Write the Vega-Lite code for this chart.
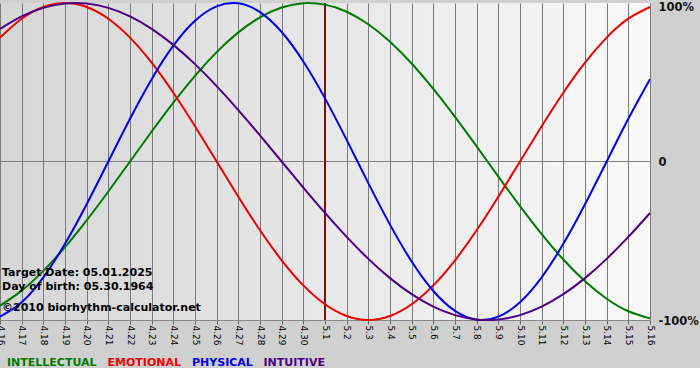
{
  "$schema": "https://vega.github.io/schema/vega-lite/v6.json",
  "width": 650,
  "height": 317,
  "autosize": {"type": "none"},
  "padding": {"left": 0, "top": 3, "right": 50, "bottom": 48},
  "background": "#d0d0d0",
  "config": {
    "font": "DejaVu Sans",
    "view": {
      "stroke": null,
      "fill": {"gradient": "linear", "x1": 0, "y1": 0, "x2": 1, "y2": 0,
        "stops": [{"offset": 0, "color": "#d6d6d6"}, {"offset": 1, "color": "#f9f9f9"}]}
    }
  },
  "datasets": {
    "curves": [
      {"d":"4.16","s":"INTELLECTUAL","v":-0.9096},{"d":"4.17","s":"INTELLECTUAL","v":-0.8146},{"d":"4.18","s":"INTELLECTUAL","v":-0.6901},{"d":"4.19","s":"INTELLECTUAL","v":-0.5406},{"d":"4.20","s":"INTELLECTUAL","v":-0.3717},{"d":"4.21","s":"INTELLECTUAL","v":-0.1893},{"d":"4.22","s":"INTELLECTUAL","v":0},{"d":"4.23","s":"INTELLECTUAL","v":0.1893},{"d":"4.24","s":"INTELLECTUAL","v":0.3717},{"d":"4.25","s":"INTELLECTUAL","v":0.5406},{"d":"4.26","s":"INTELLECTUAL","v":0.6901},{"d":"4.27","s":"INTELLECTUAL","v":0.8146},{"d":"4.28","s":"INTELLECTUAL","v":0.9096},{"d":"4.29","s":"INTELLECTUAL","v":0.9718},{"d":"4.30","s":"INTELLECTUAL","v":0.9989},{"d":"5.1","s":"INTELLECTUAL","v":0.9898},{"d":"5.2","s":"INTELLECTUAL","v":0.945},{"d":"5.3","s":"INTELLECTUAL","v":0.866},{"d":"5.4","s":"INTELLECTUAL","v":0.7557},{"d":"5.5","s":"INTELLECTUAL","v":0.6182},{"d":"5.6","s":"INTELLECTUAL","v":0.4582},{"d":"5.7","s":"INTELLECTUAL","v":0.2817},{"d":"5.8","s":"INTELLECTUAL","v":0.0951},{"d":"5.9","s":"INTELLECTUAL","v":-0.0951},{"d":"5.10","s":"INTELLECTUAL","v":-0.2817},{"d":"5.11","s":"INTELLECTUAL","v":-0.4582},{"d":"5.12","s":"INTELLECTUAL","v":-0.6182},{"d":"5.13","s":"INTELLECTUAL","v":-0.7557},{"d":"5.14","s":"INTELLECTUAL","v":-0.866},{"d":"5.15","s":"INTELLECTUAL","v":-0.945},{"d":"5.16","s":"INTELLECTUAL","v":-0.9898},
      {"d":"4.16","s":"EMOTIONAL","v":0.7818},{"d":"4.17","s":"EMOTIONAL","v":0.901},{"d":"4.18","s":"EMOTIONAL","v":0.9749},{"d":"4.19","s":"EMOTIONAL","v":1},{"d":"4.20","s":"EMOTIONAL","v":0.9749},{"d":"4.21","s":"EMOTIONAL","v":0.901},{"d":"4.22","s":"EMOTIONAL","v":0.7818},{"d":"4.23","s":"EMOTIONAL","v":0.6235},{"d":"4.24","s":"EMOTIONAL","v":0.4339},{"d":"4.25","s":"EMOTIONAL","v":0.2225},{"d":"4.26","s":"EMOTIONAL","v":0},{"d":"4.27","s":"EMOTIONAL","v":-0.2225},{"d":"4.28","s":"EMOTIONAL","v":-0.4339},{"d":"4.29","s":"EMOTIONAL","v":-0.6235},{"d":"4.30","s":"EMOTIONAL","v":-0.7818},{"d":"5.1","s":"EMOTIONAL","v":-0.901},{"d":"5.2","s":"EMOTIONAL","v":-0.9749},{"d":"5.3","s":"EMOTIONAL","v":-1},{"d":"5.4","s":"EMOTIONAL","v":-0.9749},{"d":"5.5","s":"EMOTIONAL","v":-0.901},{"d":"5.6","s":"EMOTIONAL","v":-0.7818},{"d":"5.7","s":"EMOTIONAL","v":-0.6235},{"d":"5.8","s":"EMOTIONAL","v":-0.4339},{"d":"5.9","s":"EMOTIONAL","v":-0.2225},{"d":"5.10","s":"EMOTIONAL","v":0},{"d":"5.11","s":"EMOTIONAL","v":0.2225},{"d":"5.12","s":"EMOTIONAL","v":0.4339},{"d":"5.13","s":"EMOTIONAL","v":0.6235},{"d":"5.14","s":"EMOTIONAL","v":0.7818},{"d":"5.15","s":"EMOTIONAL","v":0.901},{"d":"5.16","s":"EMOTIONAL","v":0.9749},
      {"d":"4.16","s":"PHYSICAL","v":-0.9791},{"d":"4.17","s":"PHYSICAL","v":-0.8879},{"d":"4.18","s":"PHYSICAL","v":-0.7308},{"d":"4.19","s":"PHYSICAL","v":-0.5196},{"d":"4.20","s":"PHYSICAL","v":-0.2698},{"d":"4.21","s":"PHYSICAL","v":0},{"d":"4.22","s":"PHYSICAL","v":0.2698},{"d":"4.23","s":"PHYSICAL","v":0.5196},{"d":"4.24","s":"PHYSICAL","v":0.7308},{"d":"4.25","s":"PHYSICAL","v":0.8879},{"d":"4.26","s":"PHYSICAL","v":0.9791},{"d":"4.27","s":"PHYSICAL","v":0.9977},{"d":"4.28","s":"PHYSICAL","v":0.9423},{"d":"4.29","s":"PHYSICAL","v":0.817},{"d":"4.30","s":"PHYSICAL","v":0.6311},{"d":"5.1","s":"PHYSICAL","v":0.3984},{"d":"5.2","s":"PHYSICAL","v":0.1362},{"d":"5.3","s":"PHYSICAL","v":-0.1362},{"d":"5.4","s":"PHYSICAL","v":-0.3984},{"d":"5.5","s":"PHYSICAL","v":-0.6311},{"d":"5.6","s":"PHYSICAL","v":-0.817},{"d":"5.7","s":"PHYSICAL","v":-0.9423},{"d":"5.8","s":"PHYSICAL","v":-0.9977},{"d":"5.9","s":"PHYSICAL","v":-0.9791},{"d":"5.10","s":"PHYSICAL","v":-0.8879},{"d":"5.11","s":"PHYSICAL","v":-0.7308},{"d":"5.12","s":"PHYSICAL","v":-0.5196},{"d":"5.13","s":"PHYSICAL","v":-0.2698},{"d":"5.14","s":"PHYSICAL","v":0},{"d":"5.15","s":"PHYSICAL","v":0.2698},{"d":"5.16","s":"PHYSICAL","v":0.5196},
      {"d":"4.16","s":"INTUITIVE","v":0.8372},{"d":"4.17","s":"INTUITIVE","v":0.9158},{"d":"4.18","s":"INTUITIVE","v":0.9694},{"d":"4.19","s":"INTUITIVE","v":0.9966},{"d":"4.20","s":"INTUITIVE","v":0.9966},{"d":"4.21","s":"INTUITIVE","v":0.9694},{"d":"4.22","s":"INTUITIVE","v":0.9158},{"d":"4.23","s":"INTUITIVE","v":0.8372},{"d":"4.24","s":"INTUITIVE","v":0.7357},{"d":"4.25","s":"INTUITIVE","v":0.6142},{"d":"4.26","s":"INTUITIVE","v":0.4759},{"d":"4.27","s":"INTUITIVE","v":0.3247},{"d":"4.28","s":"INTUITIVE","v":0.1646},{"d":"4.29","s":"INTUITIVE","v":0},{"d":"4.30","s":"INTUITIVE","v":-0.1646},{"d":"5.1","s":"INTUITIVE","v":-0.3247},{"d":"5.2","s":"INTUITIVE","v":-0.4759},{"d":"5.3","s":"INTUITIVE","v":-0.6142},{"d":"5.4","s":"INTUITIVE","v":-0.7357},{"d":"5.5","s":"INTUITIVE","v":-0.8372},{"d":"5.6","s":"INTUITIVE","v":-0.9158},{"d":"5.7","s":"INTUITIVE","v":-0.9694},{"d":"5.8","s":"INTUITIVE","v":-0.9966},{"d":"5.9","s":"INTUITIVE","v":-0.9966},{"d":"5.10","s":"INTUITIVE","v":-0.9694},{"d":"5.11","s":"INTUITIVE","v":-0.9158},{"d":"5.12","s":"INTUITIVE","v":-0.8372},{"d":"5.13","s":"INTUITIVE","v":-0.7357},{"d":"5.14","s":"INTUITIVE","v":-0.6142},{"d":"5.15","s":"INTUITIVE","v":-0.4759},{"d":"5.16","s":"INTUITIVE","v":-0.3247}
    ],
    "zero": [{"v": 0}],
    "target": [{"d": "5.1"}],
    "notes": [
      {"d": "4.16", "v": -0.722, "t": "Target Date: 05.01.2025"},
      {"d": "4.16", "v": -0.811, "t": "Day of birth: 05.30.1964"},
      {"d": "4.16", "v": -0.943, "t": "©2010 biorhythm-calculator.net"}
    ]
  },
  "layer": [
    {
      "data": {"name": "zero"},
      "mark": {"type": "rule", "color": "#808080", "strokeWidth": 1},
      "encoding": {"y": {"field": "v", "type": "quantitative"}}
    },
    {
      "data": {"name": "target"},
      "mark": {"type": "rule", "color": "#7a1414", "strokeWidth": 2},
      "encoding": {"x": {"field": "d", "type": "ordinal"}}
    },
    {
      "data": {"name": "curves"},
      "mark": {"type": "line", "strokeWidth": 2, "interpolate": "natural"},
      "encoding": {
        "x": {
          "field": "d", "type": "ordinal",
          "scale": {"type": "point", "padding": 0, "domain": ["4.16","4.17","4.18","4.19","4.20","4.21","4.22","4.23","4.24","4.25","4.26","4.27","4.28","4.29","4.30","5.1","5.2","5.3","5.4","5.5","5.6","5.7","5.8","5.9","5.10","5.11","5.12","5.13","5.14","5.15","5.16"]},
          "axis": {
            "title": null, "orient": "bottom", "labelAngle": 90, "labelAlign": "left", "labelBaseline": "middle",
            "labelFont": "DejaVu Sans", "labelFontSize": 9, "labelColor": "#000", "labelPadding": 1, "labelOverlap": false,
            "tickSize": 4, "tickColor": "#666", "domainColor": "#888", "grid": true, "gridColor": "#7a7a7a", "gridWidth": 1
          }
        },
        "y": {
          "field": "v", "type": "quantitative",
          "scale": {"domain": [-1, 1], "nice": false},
          "axis": {
            "title": null, "orient": "right", "values": [-1, 0, 1],
            "labelExpr": "datum.value == 1 ? '100%' : datum.value == 0 ? '0' : '-100%'",
            "ticks": false, "domain": false, "grid": false, "labelPadding": 8,
            "labelFont": "DejaVu Sans", "labelFontSize": 11.5, "labelFontWeight": "bold", "labelColor": "#111",
            "labelOffset": {"condition": {"test": "datum.value == 1", "value": 4}, "value": 1}
          }
        },
        "color": {
          "field": "s", "type": "nominal",
          "scale": {"domain": ["INTELLECTUAL", "EMOTIONAL", "PHYSICAL", "INTUITIVE"], "range": ["#007a00", "#ee0000", "#0000ee", "#4b0082"]},
          "legend": {
            "orient": "none", "legendX": 7, "legendY": 354, "direction": "horizontal", "title": null,
            "symbolSize": 1, "symbolStrokeWidth": 0, "symbolOpacity": 0, "labelOffset": -11, "columnPadding": 10.5,
            "labelFont": "DejaVu Sans", "labelFontWeight": "bold", "labelFontSize": 11, "labelLimit": 0,
            "encode": {"labels": {"update": {"fill": {"scale": "color", "field": "value"}}}}
          }
        }
      }
    },
    {
      "data": {"name": "notes"},
      "mark": {"type": "text", "align": "left", "baseline": "alphabetic", "dx": 2, "font": "DejaVu Sans", "fontWeight": "bold", "fontSize": 11, "color": "#000"},
      "encoding": {
        "x": {"field": "d", "type": "ordinal"},
        "y": {"field": "v", "type": "quantitative"},
        "text": {"field": "t"}
      }
    }
  ]
}
